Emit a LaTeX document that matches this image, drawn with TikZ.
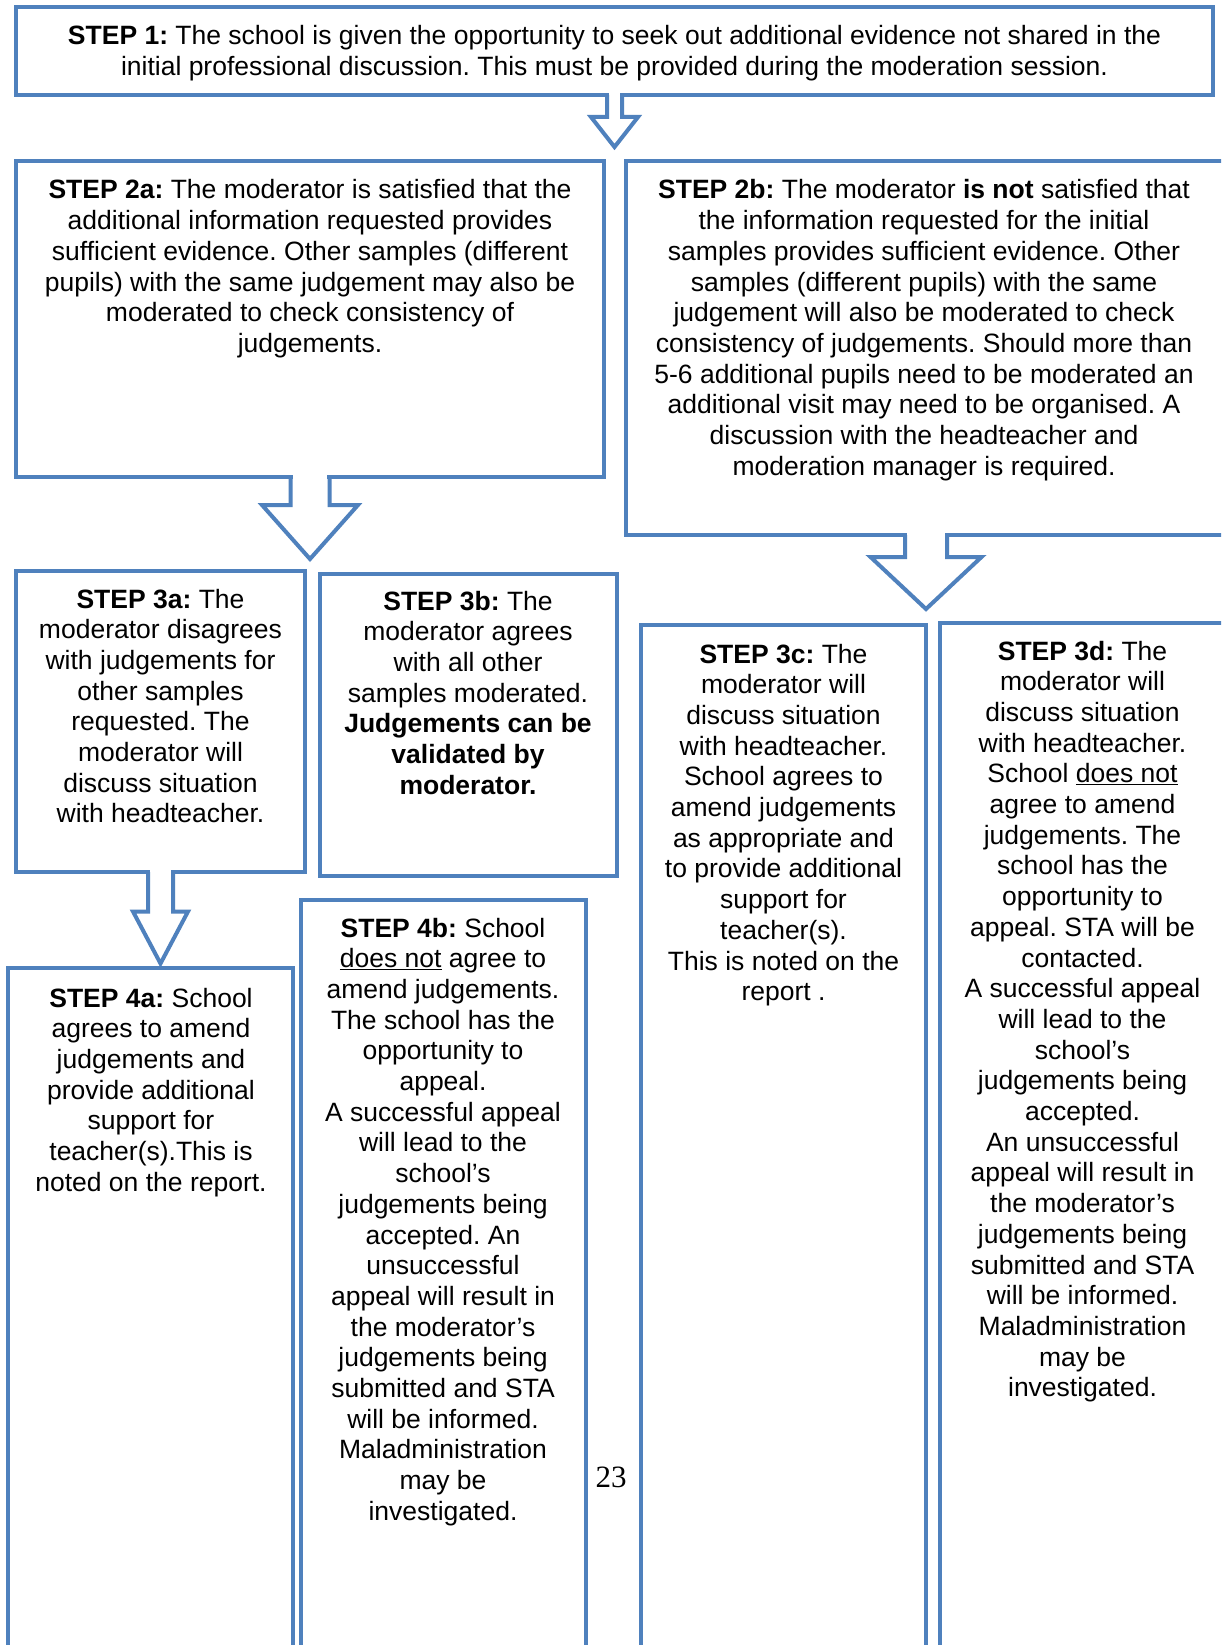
\documentclass[tikz,border=0pt]{standalone}
\usepackage{fontspec}
\setmainfont{Liberation Sans}
\newfontfamily\pagenumfont{Liberation Serif}
\usetikzlibrary{calc}
\frenchspacing
\definecolor{boxblue}{HTML}{4F81BD}
\tikzset{
  box/.style={draw=boxblue, line width=4pt, outer sep=0pt, inner sep=0pt, fill=white, rectangle},
  txt/.style={inner sep=0pt, outer sep=0pt, anchor=base, font=\fontsize{26.5pt}{30.7pt}\selectfont},
  arrowline/.style={draw=boxblue, line width=4pt, line join=miter}
}
% #1 source node, #2 stem half width, #3 stem length, #4 head half width, #5 head length
\newcommand\blockarrowdraw[5]{%
  \fill[white] ($(#1.south)+(-#2+2.2,-3)$) rectangle ($(#1.south)+(#2-2.2,3)$);
  \draw[arrowline] ($(#1.south)+(-#2,0)$) -- ++(0,#3) -- ++(#2-#4,0)
     -- ++(#4,#5) -- ++(#4,-#5) -- ++(#2-#4,0) -- ++(0,-#3);
}
\begin{document}
\begin{tikzpicture}[x=1pt,y=-1pt]
\clip (0,0) rectangle (1221,1645);
\fill[white] (0,0) rectangle (1221,1645);
% boxes (line centres)
\node[box, minimum width=1197pt, minimum height=88pt] (s1) at (614.5,51) {};
\node[box, minimum width=588pt, minimum height=316pt] (s2a) at (310,319) {};
\node[box, minimum width=600pt, minimum height=374pt] (s2b) at (926,348) {};
\node[box, minimum width=289pt, minimum height=301.5pt] (s3a) at (160.5,721.25) {};
\node[box, minimum width=297pt, minimum height=302pt] (s3b) at (468.5,725) {};
\node[box, minimum width=285pt, minimum height=1045pt] (s3c) at (783.5,1147.5) {};
\node[box, minimum width=290pt, minimum height=1047pt] (s3d) at (1085,1146.5) {};
\node[box, minimum width=285pt, minimum height=702pt] (s4a) at (150.5,1319) {};
\node[box, minimum width=285pt, minimum height=770pt] (s4b) at (443,1285) {};
% block arrows
\blockarrowdraw{s1}{7.5}{22}{23.5}{30}
\blockarrowdraw{s2a}{19.5}{28}{48}{54}
\blockarrowdraw{s2b}{21}{22}{55.5}{52}
\blockarrowdraw{s3a}{12.5}{39.5}{27.5}{52}
% texts
\node[txt] (t1) at (614.5,45) {\parbox[t]{1190pt}{\centering
\textbf{STEP 1:} The school is given the opportunity to seek out additional evidence not shared in the\\
initial professional discussion. This must be provided during the moderation session.}};
\node[txt] (t2a) at (310,199) {\parbox[t]{580pt}{\centering
\textbf{STEP 2a:} The moderator is satisfied that the\\
additional information requested provides\\
sufficient evidence. Other samples (different\\
pupils) with the same judgement may also be\\
moderated to check consistency of\\
judgements.}};
\node[txt] (t2b) at (924,199) {\parbox[t]{590pt}{\centering
\textbf{STEP 2b:} The moderator \textbf{is not} satisfied that\\
the information requested for the initial\\
samples provides sufficient evidence. Other\\
samples (different pupils) with the same\\
judgement will also be moderated to check\\
consistency of judgements. Should more than\\
5-6 additional pupils need to be moderated an\\
additional visit may need to be organised. A\\
discussion with the headteacher and\\
moderation manager is required.}};
\node[txt] (t3a) at (160.5,608) {\parbox[t]{280pt}{\centering
\textbf{STEP 3a:} The\\
moderator disagrees\\
with judgements for\\
other samples\\
requested. The\\
moderator will\\
discuss situation\\
with headteacher.}};
\node[txt] (t3b) at (468,610) {\parbox[t]{290pt}{\centering
\textbf{STEP 3b:} The\\
moderator agrees\\
with all other\\
samples moderated.\\
\textbf{Judgements can be}\\
\textbf{validated by}\\
\textbf{moderator.}}};
\node[txt] (t3c) at (783.5,663) {\parbox[t]{280pt}{\centering
\textbf{STEP 3c:} The\\
moderator will\\
discuss situation\\
with headteacher.\\
School agrees to\\
amend judgements\\
as appropriate and\\
to provide additional\\
support for\\
teacher(s).\\
This is noted on the\\
report .}};
\node[txt] (t3d) at (1082.5,660) {\parbox[t]{280pt}{\centering
\textbf{STEP 3d:} The\\
moderator will\\
discuss situation\\
with headteacher.\\
School \underline{does not}\\
agree to amend\\
judgements. The\\
school has the\\
opportunity to\\
appeal. STA will be\\
contacted.\\
A successful appeal\\
will lead to the\\
school’s\\
judgements being\\
accepted.\\
An unsuccessful\\
appeal will result in\\
the moderator’s\\
judgements being\\
submitted and STA\\
will be informed.\\
Maladministration\\
may be\\
investigated.}};
\node[txt] (t4a) at (151,1007) {\parbox[t]{280pt}{\centering
\textbf{STEP 4a:} School\\
agrees to amend\\
judgements and\\
provide additional\\
support for\\
teacher(s).This is\\
noted on the report.}};
\node[txt] (t4b) at (443,937) {\parbox[t]{280pt}{\centering
\textbf{STEP 4b:} School\\
\underline{does not} agree to\\
amend judgements.\\
The school has the\\
opportunity to\\
appeal.\\
A successful appeal\\
will lead to the\\
school’s\\
judgements being\\
accepted. An\\
unsuccessful\\
appeal will result in\\
the moderator’s\\
judgements being\\
submitted and STA\\
will be informed.\\
Maladministration\\
may be\\
investigated.}};
\node[inner sep=0pt, anchor=base, font=\pagenumfont\fontsize{31pt}{34pt}\selectfont] (pg) at (611,1487) {23};
\end{tikzpicture}
\end{document}
